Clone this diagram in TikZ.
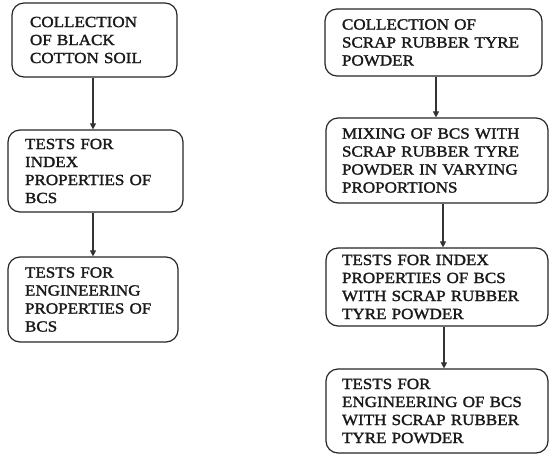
\documentclass[tikz,border=0pt]{standalone}
\usepackage{fontspec}
\setmainfont{Liberation Serif}[FakeStretch=1.1,FakeBold=1.6]
\usetikzlibrary{arrows.meta}
\begin{document}
\begin{tikzpicture}[x=1pt,y=-1pt,
  boxnode/.style={draw=black!85, line width=1.2pt, rounded corners=12pt,
    align=left, inner sep=0pt, font=\fontsize{15.5}{18}\selectfont,
    text=black!90},
  flow/.style={draw=black!80, line width=1.1pt, -{Triangle[length=6pt,width=6pt]}}]
\useasboundingbox (0,0) rectangle (549,456);
\fill[white] (0,0) rectangle (549,456);
% left column
\node[boxnode, minimum width=165pt, minimum height=74pt, text width=129pt] (L1) at (94.5,40)
  {COLLECTION\\OF BLACK\\COTTON SOIL};
\node[boxnode, minimum width=175pt, minimum height=82pt, text width=141pt] (L2) at (95.5,171)
  {TESTS FOR\\INDEX\\PROPERTIES OF\\BCS};
\node[boxnode, minimum width=170pt, minimum height=85pt, text width=136pt] (L3) at (93,299.5)
  {TESTS FOR\\ENGINEERING\\PROPERTIES OF\\BCS};
% right column
\node[boxnode, minimum width=217pt, minimum height=67pt, text width=183pt] (R1) at (433.5,42.5)
  {COLLECTION OF\\SCRAP RUBBER TYRE\\POWDER};
\node[boxnode, minimum width=222pt, minimum height=85pt, text width=190pt] (R2) at (437,160.5)
  {MIXING OF BCS WITH\\SCRAP RUBBER TYRE\\POWDER IN VARYING\\PROPORTIONS};
\node[boxnode, minimum width=222pt, minimum height=78pt, text width=190pt] (R3) at (437,287)
  {TESTS FOR INDEX\\PROPERTIES OF BCS\\WITH SCRAP RUBBER\\TYRE POWDER};
\node[boxnode, minimum width=222pt, minimum height=84pt, text width=190pt] (R4) at (437,411)
  {TESTS FOR\\ENGINEERING OF BCS\\WITH SCRAP RUBBER\\TYRE POWDER};
% connectors
\draw[flow] ([xshift=-1.5pt]L1.south) -- ([xshift=-1.5pt]L1.south |- L2.north);
\draw[flow] ([xshift=-2.5pt]L2.south) -- ([xshift=-2.5pt]L2.south |- L3.north);
\draw[flow] ([xshift=2.5pt]R1.south) -- ([xshift=2.5pt]R1.south |- R2.north);
\draw[flow] ([xshift=6pt]R2.south) -- ([xshift=6pt]R2.south |- R3.north);
\draw[flow] ([xshift=7pt]R3.south) -- ([xshift=7pt]R3.south |- R4.north);
\end{tikzpicture}
\end{document}
